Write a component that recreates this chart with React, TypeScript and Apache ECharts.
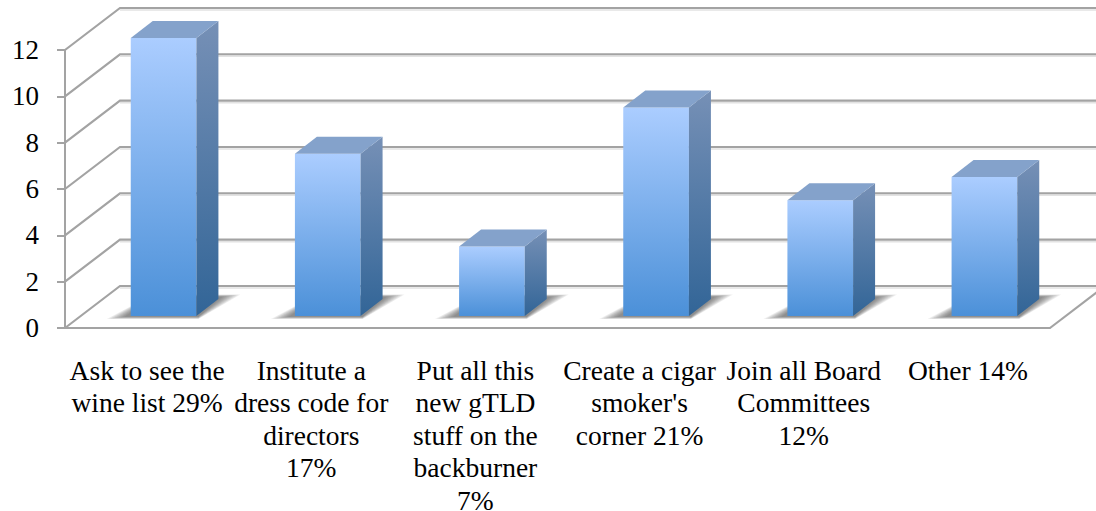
import React, { useEffect, useRef } from "react";
import * as echarts from "echarts";

const categories = [
  "Ask to see the\nwine list 29%",
  "Institute a\ndress code for\ndirectors\n17%",
  "Put all this\nnew gTLD\nstuff on the\nbackburner\n7%",
  "Create a cigar\nsmoker's\ncorner 21%",
  "Join all Board\nCommittees\n12%",
  "Other 14%",
];
const values = [12, 7, 3, 9, 5, 6];
const yTicks = [0, 2, 4, 6, 8, 10, 12];

const FONT = "Liberation Serif";
const AXIS = "#a3a3a3";
const WALL_DX = 55;
const WALL_DY = -42;
const BAR_OFF_X = 16.5;
const BAR_OFF_Y = -12;
const BAR_DX = 22;
const BAR_DY = -17;
const BAR_RATIO = 0.4;
const SHADOW_LAYERS = 10;

const vgrad = (a: string, b: string) =>
  new echarts.graphic.LinearGradient(0, 0, 0, 1, [
    { offset: 0, color: a },
    { offset: 1, color: b },
  ]);

export default function App() {
  const ref = useRef<HTMLDivElement>(null);
  useEffect(() => {
    const chart = echarts.init(ref.current!, undefined, { renderer: "svg" });
    chart.setOption({
      animation: false,
      backgroundColor: "#ffffff",
      grid: { left: 65, right: 46, top: 50, bottom: 183, outerBoundsMode: "none" },
      xAxis: {
        type: "category",
        data: categories,
        axisLine: { lineStyle: { color: AXIS, width: 2 } },
        axisTick: { length: 9, lineStyle: { color: AXIS, width: 2 } },
        axisLabel: {
          interval: 0,
          margin: 26,
          fontFamily: FONT,
          fontSize: 27.5,
          lineHeight: 32.5,
          color: "#000000",
          verticalAlign: "top",
        },
      },
      yAxis: {
        type: "value",
        min: 0,
        max: 12,
        interval: 2,
        splitLine: { show: false },
        axisLine: { show: true, lineStyle: { color: AXIS, width: 2 } },
        axisTick: { show: true, length: 8, lineStyle: { color: AXIS, width: 2 } },
        axisLabel: {
          margin: 26,
          fontFamily: FONT,
          fontSize: 27,
          color: "#000000",
          padding: [5, 0, 0, 0],
        },
      },
      series: [
        {
          type: "custom",
          z: 1,
          silent: true,
          data: yTicks.map((v) => [0, v]),
          encode: { x: 0, y: 1 },
          renderItem: (params: any, api: any) => {
            const cs = params.coordSys;
            const y = api.coord([0, api.value(1)])[1];
            const x0 = cs.x;
            const x1 = cs.x + cs.width;
            const style = { stroke: AXIS, lineWidth: 2.2, fill: "none" };
            const children: any[] = [
              {
                type: "polyline",
                shape: {
                  points: [
                    [x0, y],
                    [x0 + WALL_DX, y + WALL_DY],
                    [x1 + WALL_DX, y + WALL_DY],
                  ],
                },
                style,
              },
              {
                type: "line",
                shape: {
                  x1: x0 + WALL_DX,
                  y1: y + WALL_DY + 2,
                  x2: x1 + WALL_DX,
                  y2: y + WALL_DY + 2,
                },
                style: { stroke: "#e2e2e2", lineWidth: 1.5 },
              },
            ];
            if (params.dataIndex === 0) {
              children.push({
                type: "line",
                shape: { x1, y1: y, x2: x1 + WALL_DX, y2: y + WALL_DY },
                style,
              });
            }
            return { type: "group", children };
          },
        },
        {
          type: "custom",
          z: 3,
          silent: true,
          data: values.map((v, i) => [i, v]),
          encode: { x: 0, y: 1 },
          renderItem: (_params: any, api: any) => {
            const p = api.coord([api.value(0), api.value(1)]);
            const base = api.coord([api.value(0), 0]);
            const w = api.size([1, 0])[0] * BAR_RATIO;
            const l = p[0] + BAR_OFF_X - w / 2;
            const r = l + w;
            const t = p[1] + BAR_OFF_Y;
            const b = base[1] + BAR_OFF_Y;
            const shadow: any[] = [];
            for (let k = 0; k < SHADOW_LAYERS; k++) {
              const e = SHADOW_LAYERS - k;
              shadow.push({
                type: "polygon",
                shape: {
                  points: [
                    [l - 4 - e * 2, b + 0.5 + e * 0.25],
                    [r + 2, b + 0.5 + e * 0.25],
                    [r + 24 + e * 2, b - 19 - e * 0.25],
                    [l + 22, b - 19 - e * 0.25],
                  ],
                },
                style: { fill: "rgba(40,40,40,0.07)" },
              });
            }
            return {
              type: "group",
              children: [
                ...shadow,
                {
                  type: "rect",
                  shape: { x: l, y: t, width: w, height: b - t },
                  style: { fill: vgrad("#abcdff", "#4b90d8") },
                },
                {
                  type: "polygon",
                  shape: {
                    points: [
                      [r, t],
                      [r + BAR_DX, t + BAR_DY],
                      [r + BAR_DX, b + BAR_DY],
                      [r, b],
                    ],
                  },
                  style: { fill: vgrad("#7690b6", "#326597") },
                },
                {
                  type: "polygon",
                  shape: {
                    points: [
                      [l, t],
                      [l + BAR_DX, t + BAR_DY],
                      [r + BAR_DX, t + BAR_DY],
                      [r, t],
                    ],
                  },
                  style: { fill: "#84a2cb" },
                },
              ],
            };
          },
        },
      ],
    });
    return () => chart.dispose();
  }, []);
  return (
    <div
      ref={ref}
      style={{ position: "absolute", left: 0, top: 0, width: 1096, height: 511 }}
    />
  );
}
